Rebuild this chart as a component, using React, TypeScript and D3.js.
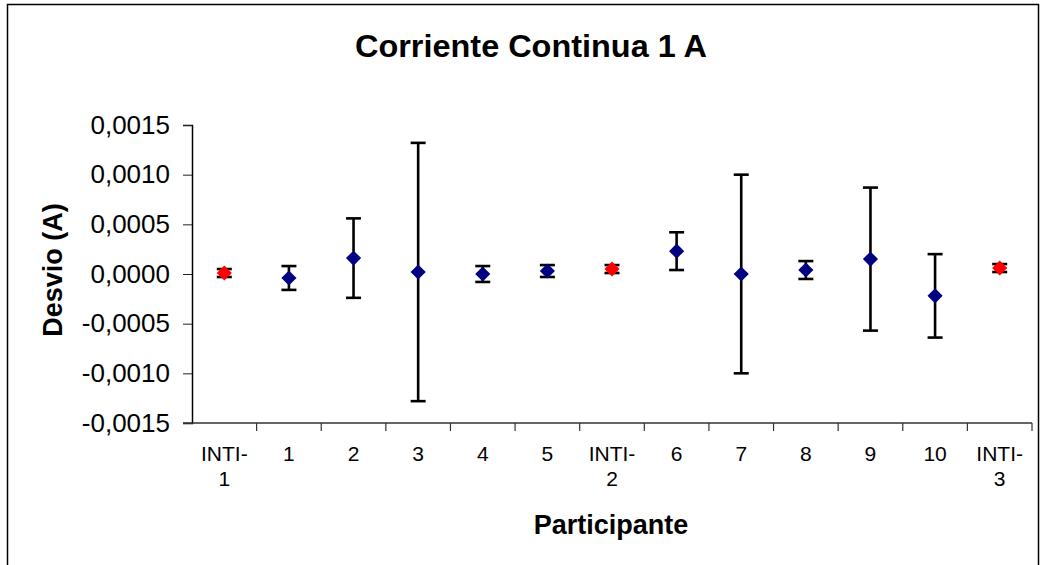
import * as d3 from 'd3'
import { useEffect, useRef } from 'react'

// Datos (desvío en A)
const participants = ['INTI-1', '1', '2', '3', '4', '5', 'INTI-2', '6', '7', '8', '9', '10', 'INTI-3']
const deviations = [0.00001, -0.00004, 0.00016, 0.00002, 0.0, 0.00003, 0.00005, 0.00023, 0.0, 0.00004, 0.00015, -0.00022, 0.00006]
const uncertainties = [0.00004, 0.00012, 0.0004, 0.0013, 0.00008, 0.00006, 0.00004, 0.00019, 0.001, 0.00009, 0.00072, 0.00042, 0.00004]
const isReference = [true, false, false, false, false, false, true, false, false, false, false, false, true]
const yTicks = [-0.0015, -0.001, -0.0005, 0, 0.0005, 0.001, 0.0015]

const width = 1041
const height = 565
const font = "'Liberation Sans', Arial, sans-serif"

export default function App() {
  const svgRef = useRef(null)

  useEffect(() => {
    const svg = d3.select(svgRef.current)
    svg.selectAll('*').remove()

    const left = 192
    const right = 1032
    const top = 125
    const bottom = 423

    const x = d3.scaleBand().domain(participants).range([left, right])
    const y = d3.scaleLinear().domain([-0.0015, 0.0015]).range([bottom, top])

    // marco exterior
    svg.append('rect')
      .attr('x', 7.5).attr('y', 4.5)
      .attr('width', 1031).attr('height', 620)
      .attr('fill', 'white')
      .attr('stroke', 'black')
      .attr('stroke-width', 1.5)

    // titulo
    svg.append('text')
      .attr('x', 531).attr('y', 57)
      .attr('text-anchor', 'middle')
      .style('font-family', font)
      .style('font-weight', 'bold')
      .style('font-size', '32px')
      .attr('textLength', 352)
      .attr('lengthAdjust', 'spacingAndGlyphs')
      .text('Corriente Continua 1 A')

    // eje y
    const yAxis = d3.axisLeft(y)
      .tickValues(yTicks)
      .tickSize(9)
      .tickPadding(13)
      .tickFormat(d => d3.format('.4f')(d as number).replace('.', ',').replace('−', '-'))
    const gy = svg.append('g')
      .attr('transform', `translate(${left},0)`)
      .call(yAxis)
    gy.select('.domain').attr('stroke', 'black').attr('stroke-width', 1.5)
    gy.selectAll('line').attr('stroke', '#222')
    gy.selectAll('text')
      .style('font-family', font)
      .style('font-size', '26px')
      .attr('fill', 'black')

    // eje x
    const gx = svg.append('g')
      .attr('transform', `translate(0,${bottom})`)
    gx.append('line')
      .attr('x1', left - 9).attr('x2', right)
      .attr('y1', 0).attr('y2', 0)
      .attr('stroke', '#333').attr('stroke-width', 1.5)
    const boundaries = participants.map(p => x(p)!).concat([right])
    gx.selectAll('line.tick')
      .data(boundaries.slice(1))
      .enter()
      .append('line')
      .attr('class', 'tick')
      .attr('x1', d => d).attr('x2', d => d)
      .attr('y1', 0).attr('y2', 8)
      .attr('stroke', '#333').attr('stroke-width', 1.2)

    const labels = gx.selectAll('text.lab')
      .data(participants)
      .enter()
      .append('text')
      .attr('class', 'lab')
      .attr('text-anchor', 'middle')
      .style('font-family', font)
      .style('font-size', '21px')
      .attr('fill', 'black')
    labels.each(function (d) {
      const t = d3.select(this)
      const cx = x(d)! + x.bandwidth() / 2
      if (d.startsWith('INTI')) {
        const parts = d.split('-')
        t.append('tspan').attr('x', cx).attr('y', 38).text(parts[0] + '-')
        t.append('tspan').attr('x', cx).attr('y', 63).text(parts[1])
      } else {
        t.append('tspan').attr('x', cx).attr('y', 38).text(d)
      }
    })

    // titulos de ejes
    svg.append('text')
      .attr('x', 611).attr('y', 534)
      .attr('text-anchor', 'middle')
      .style('font-family', font)
      .style('font-weight', 'bold')
      .style('font-size', '27px')
      .text('Participante')

    svg.append('text')
      .attr('transform', 'translate(62,270) rotate(-90)')
      .attr('text-anchor', 'middle')
      .style('font-family', font)
      .style('font-weight', 'bold')
      .style('font-size', '27px')
      .text('Desvio (A)')

    const points = participants.map((p, i) => ({
      p, v: deviations[i], u: uncertainties[i], ref: isReference[i]
    }))

    // barras de error
    const eb = svg.append('g')
    eb.selectAll('line.stem')
      .data(points)
      .enter()
      .append('line')
      .attr('x1', d => x(d.p)! + x.bandwidth() / 2)
      .attr('x2', d => x(d.p)! + x.bandwidth() / 2)
      .attr('y1', d => y(d.v + d.u))
      .attr('y2', d => y(d.v - d.u))
      .attr('stroke', 'black').attr('stroke-width', 2.6)
    for (const sign of [1, -1]) {
      eb.selectAll(`line.cap${sign}`)
        .data(points)
        .enter()
        .append('line')
        .attr('x1', d => x(d.p)! + x.bandwidth() / 2 - 7.5)
        .attr('x2', d => x(d.p)! + x.bandwidth() / 2 + 7.5)
        .attr('y1', d => y(d.v + sign * d.u))
        .attr('y2', d => y(d.v + sign * d.u))
        .attr('stroke', 'black').attr('stroke-width', 2.6)
    }

    // marcadores
    const diamond = d3.symbol().type(d3.symbolSquare).size(115)
    svg.append('g')
      .selectAll('path')
      .data(points)
      .enter()
      .append('path')
      .attr('d', diamond)
      .attr('transform', d => `translate(${x(d.p)! + x.bandwidth() / 2},${y(d.v)}) rotate(45)`)
      .attr('fill', d => d.ref ? '#ff0000' : '#000080')
  }, [svgRef])

  return (
    <div style={{ position: 'absolute', left: 0, top: 0 }}>
      <svg ref={svgRef} width={width} height={height} style={{ display: 'block', background: 'white' }}></svg>
    </div>
  )
}
